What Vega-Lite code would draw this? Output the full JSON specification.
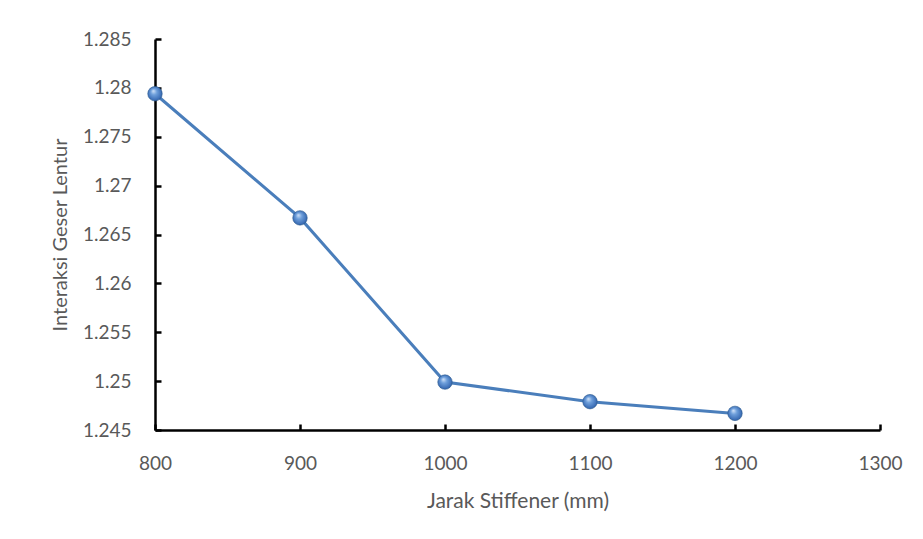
{
  "$schema": "https://vega.github.io/schema/vega-lite/v6.json",
  "width": 725,
  "height": 391,
  "autosize": {"type": "none"},
  "padding": {"left": 155, "top": 39, "right": 43, "bottom": 109},
  "background": "white",
  "config": {
    "view": {"stroke": null},
    "font": "Lato"
  },
  "data": {
    "values": [
      {"jarak": 800, "interaksi": 1.2794},
      {"jarak": 900, "interaksi": 1.2667},
      {"jarak": 1000, "interaksi": 1.2499},
      {"jarak": 1100, "interaksi": 1.2479},
      {"jarak": 1200, "interaksi": 1.2467}
    ]
  },
  "encoding": {
    "x": {
      "field": "jarak",
      "type": "quantitative",
      "scale": {"domain": [800, 1300], "nice": false, "zero": false},
      "axis": {
        "title": "Jarak Stiffener (mm)",
        "values": [800, 900, 1000, 1100, 1200, 1300],
        "format": "d",
        "labelFlush": false,
        "grid": false,
        "domainColor": "black",
        "domainWidth": 2.5,
        "tickColor": "black",
        "tickWidth": 2.5,
        "tickSize": -6,
        "labelPadding": 30,
        "labelColor": "#595959",
        "labelFontSize": 19,
        "labelFont": "Lato",
        "titleFont": "Lato",
        "titleFontSize": 21,
        "titleFontWeight": "normal",
        "titleColor": "#595959",
        "titlePadding": 17
      }
    },
    "y": {
      "field": "interaksi",
      "type": "quantitative",
      "scale": {"domain": [1.245, 1.285], "nice": false, "zero": false},
      "axis": {
        "title": "Interaksi Geser Lentur",
        "values": [1.245, 1.25, 1.255, 1.26, 1.265, 1.27, 1.275, 1.28, 1.285],
        "format": "~g",
        "labelFlush": false,
        "grid": false,
        "domainColor": "black",
        "domainWidth": 2.5,
        "tickColor": "black",
        "tickWidth": 2.5,
        "tickSize": -6,
        "labelPadding": 30,
        "labelColor": "#595959",
        "labelFontSize": 19,
        "labelFont": "Lato",
        "titleFont": "Lato",
        "titleFontSize": 20,
        "titleFontWeight": "normal",
        "titleColor": "#595959",
        "titlePadding": 12
      }
    }
  },
  "layer": [
    {
      "mark": {"type": "line", "color": "#4A7EBB", "strokeWidth": 3}
    },
    {
      "mark": {
        "type": "point",
        "shape": "circle",
        "size": 210,
        "filled": true,
        "opacity": 1,
        "stroke": "#2C5A8F",
        "strokeWidth": 0.6,
        "fill": {
          "gradient": "radial",
          "x1": 0.38, "y1": 0.3, "r1": 0,
          "x2": 0.5, "y2": 0.5, "r2": 0.6,
          "stops": [
            {"offset": 0, "color": "#D6E6FA"},
            {"offset": 0.35, "color": "#6E9FDB"},
            {"offset": 0.8, "color": "#3B6DB5"},
            {"offset": 1, "color": "#244F8A"}
          ]
        }
      }
    }
  ]
}
